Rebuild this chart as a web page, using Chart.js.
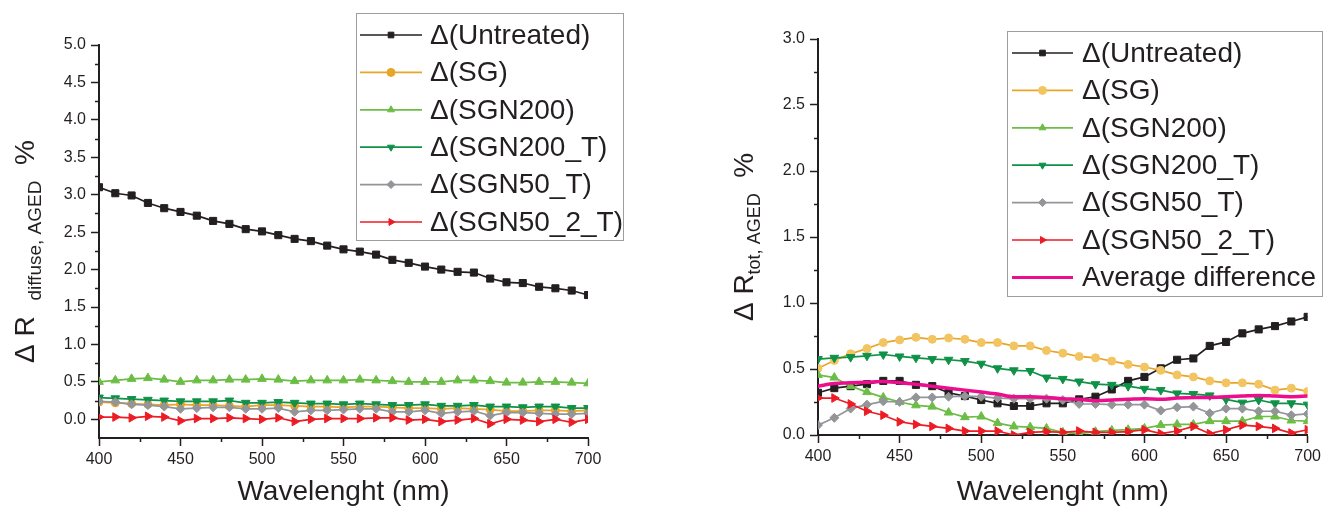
<!DOCTYPE html>
<html><head><meta charset="utf-8">
<script src="https://cdn.jsdelivr.net/npm/chart.js@4.4.0/dist/chart.umd.min.js"></script>
<style>
html,body{margin:0;padding:0;background:#fff;width:1325px;height:506px;overflow:hidden}
#c1{position:absolute;left:0;top:0;width:720px;height:506px}
#c2{position:absolute;left:720px;top:0;width:605px;height:506px}
</style></head><body>
<canvas id="c1" width="720" height="506"></canvas>
<canvas id="c2" width="605" height="506"></canvas>
<script>
// ---------- data ----------
const wavelengths = [400,410,420,430,440,450,460,470,480,490,500,510,520,530,540,550,560,570,580,590,600,610,620,630,640,650,660,670,680,690,700];
const seriesNames = ['Δ(Untreated)','Δ(SG)','Δ(SGN200)','Δ(SGN200_T)','Δ(SGN50_T)','Δ(SGN50_2_T)'];
const avgName = 'Average difference';

// left: Delta R diffuse, AGED %
const diffUntreated = [3.10,3.02,2.99,2.89,2.82,2.77,2.72,2.65,2.61,2.54,2.51,2.46,2.41,2.38,2.32,2.27,2.24,2.20,2.13,2.09,2.04,2.00,1.97,1.96,1.88,1.83,1.82,1.77,1.75,1.72,1.66];
const diffSG        = [0.23,0.22,0.21,0.20,0.19,0.20,0.19,0.19,0.18,0.17,0.19,0.19,0.18,0.17,0.17,0.16,0.17,0.17,0.16,0.15,0.15,0.14,0.15,0.14,0.13,0.11,0.11,0.12,0.12,0.11,0.12];
const diffSGN200    = [0.50,0.52,0.54,0.55,0.53,0.50,0.52,0.52,0.53,0.53,0.54,0.53,0.51,0.52,0.52,0.52,0.53,0.52,0.51,0.50,0.50,0.50,0.52,0.52,0.51,0.49,0.49,0.50,0.50,0.49,0.48];
const diffSGN200T   = [0.29,0.28,0.27,0.26,0.25,0.24,0.24,0.24,0.25,0.22,0.22,0.23,0.22,0.21,0.21,0.20,0.21,0.20,0.19,0.19,0.20,0.18,0.18,0.19,0.17,0.17,0.16,0.17,0.17,0.15,0.15];
const diffSGN50T    = [0.24,0.23,0.20,0.19,0.17,0.14,0.15,0.16,0.16,0.14,0.14,0.15,0.10,0.12,0.12,0.13,0.14,0.14,0.10,0.10,0.12,0.08,0.10,0.11,0.05,0.09,0.09,0.08,0.07,0.07,0.08];
const diffSGN502T   = [0.03,0.03,0.02,0.04,0.03,-0.02,0.01,0.01,0.02,0.01,0.00,0.02,-0.03,0.00,0.01,0.01,0.01,0.02,0.02,-0.01,0.00,-0.03,-0.01,0.01,-0.06,0.00,-0.01,-0.03,0.00,-0.04,0.00];

// right: Delta R tot, AGED %
const totUntreated = [0.32,0.355,0.37,0.385,0.41,0.41,0.38,0.37,0.32,0.295,0.265,0.24,0.22,0.22,0.24,0.24,0.27,0.29,0.345,0.41,0.44,0.505,0.57,0.58,0.675,0.705,0.77,0.80,0.825,0.86,0.895];
const totSG        = [0.505,0.565,0.615,0.655,0.70,0.72,0.74,0.725,0.735,0.725,0.70,0.70,0.675,0.675,0.64,0.62,0.595,0.585,0.56,0.535,0.515,0.49,0.455,0.44,0.41,0.395,0.395,0.385,0.34,0.355,0.33];
const totSGN200    = [0.455,0.435,0.37,0.325,0.285,0.25,0.225,0.215,0.17,0.135,0.14,0.09,0.065,0.06,0.05,0.02,0.01,0.025,0.035,0.04,0.05,0.075,0.08,0.08,0.105,0.105,0.105,0.14,0.14,0.11,0.105];
const totSGN200T   = [0.575,0.585,0.59,0.60,0.61,0.595,0.585,0.575,0.57,0.56,0.54,0.505,0.49,0.485,0.435,0.425,0.405,0.385,0.38,0.37,0.35,0.34,0.315,0.31,0.30,0.27,0.245,0.265,0.24,0.24,0.23];
const totSGN50T    = [0.075,0.13,0.20,0.23,0.255,0.25,0.285,0.285,0.29,0.295,0.29,0.28,0.275,0.275,0.275,0.265,0.235,0.235,0.23,0.23,0.23,0.185,0.21,0.215,0.165,0.20,0.20,0.18,0.18,0.15,0.16];
const totSGN502T   = [0.28,0.28,0.235,0.18,0.15,0.10,0.08,0.065,0.05,0.03,0.03,0.03,0.0,0.02,0.025,0.02,0.03,0.02,0.02,0.025,0.04,0.01,0.03,0.065,0.01,0.04,0.075,0.065,0.05,0.015,0.04];
const totAverage   = [0.37,0.39,0.395,0.40,0.405,0.395,0.385,0.37,0.355,0.34,0.325,0.31,0.29,0.29,0.285,0.275,0.27,0.26,0.265,0.27,0.275,0.27,0.28,0.285,0.285,0.29,0.295,0.30,0.295,0.29,0.295];

// ---------- styling ----------
const INK = '#231f20';
const FONT = "'Liberation Sans', Arial, Helvetica, sans-serif";
Chart.defaults.font.family = FONT;
Chart.defaults.color = INK;

const styles = [
  {color:'#231f20', fill:'#231f20', pointStyle:'rect', rotation:0, radius:5, order:6},
  {color:'#e8a527', fill:'#e8a527', pointStyle:'circle', rotation:0, radius:4, order:5},
  {color:'#6cbd45', fill:'#6cbd45', pointStyle:'triangle', rotation:0, radius:5, order:4},
  {color:'#0f9147', fill:'#0f9147', pointStyle:'triangle', rotation:180, radius:5, order:3},
  {color:'#939598', fill:'#939598', pointStyle:'rectRot', rotation:0, radius:4.5, order:2},
  {color:'#ed1c24', fill:'#ed1c24', pointStyle:'triangle', rotation:90, radius:5, order:1}
];

function pts(arr){ return wavelengths.map((w,i)=>({x:w, y:arr[i]})); }
function mkDs(name, arr, st, over){
  return Object.assign({
    label:name, data:pts(arr), borderColor:st.color, backgroundColor:st.fill,
    pointBackgroundColor:st.fill, pointBorderColor:st.fill, pointBorderWidth:1,
    pointStyle:st.pointStyle, pointRotation:st.rotation, pointRadius:st.radius,
    borderWidth:1.7, tension:0, order:st.order
  }, over||{});
}

const decor = {
  id:'decor',
  afterDraw(chart, args, o){
    const ctx = chart.ctx, ca = chart.chartArea;
    const xs = chart.scales.x, ys = chart.scales.y;
    ctx.save();
    // minor ticks (midpoints between major ticks)
    ctx.strokeStyle = INK; ctx.lineWidth = 1.5;
    const xt = xs.ticks.map(t=>t.value), yt = ys.ticks.map(t=>t.value);
    for (let i=0;i<xt.length-1;i++){
      const px = Math.round(xs.getPixelForValue((xt[i]+xt[i+1])/2))+0.5;
      ctx.beginPath(); ctx.moveTo(px, ca.bottom); ctx.lineTo(px, ca.bottom+o.minorLen); ctx.stroke();
    }
    for (let i=0;i<yt.length-1;i++){
      const py = Math.round(ys.getPixelForValue((yt[i]+yt[i+1])/2))+0.5;
      ctx.beginPath(); ctx.moveTo(ca.left-o.minorLen, py); ctx.lineTo(ca.left, py); ctx.stroke();
    }
    // x title
    ctx.fillStyle = INK;
    ctx.font = o.titleSize+'px '+FONT;
    ctx.textAlign='center'; ctx.textBaseline='alphabetic';
    ctx.fillText(o.xTitle, (ca.left+ca.right)/2, o.xTitleY);
    // y title (rotated, with subscript)
    ctx.save();
    ctx.translate(o.yTitleX, (ca.top+ca.bottom)/2 + (o.yTitleShift||0));
    ctx.rotate(-Math.PI/2);
    let total = 0;
    for (const p of o.yTitleParts){ ctx.font = p.size+'px '+FONT; total += ctx.measureText(p.t).width; }
    let cx = -total/2;
    ctx.textAlign='left';
    for (const p of o.yTitleParts){
      ctx.font = p.size+'px '+FONT;
      ctx.fillText(p.t, cx, p.dy);
      cx += ctx.measureText(p.t).width;
    }
    ctx.restore();
    // legend
    const L = o.legend;
    ctx.strokeStyle = '#9d9d9d'; ctx.lineWidth = 1;
    ctx.strokeRect(L.x+0.5, L.y+0.5, L.w, L.h);
    ctx.font = L.size+'px '+FONT;
    ctx.textAlign='left'; ctx.textBaseline='middle';
    chart.data.datasets.forEach((ds, i)=>{
      const y = L.firstY + i*L.rowH;
      ctx.strokeStyle = ds.borderColor; ctx.lineWidth = Math.min(ds.borderWidth, 3);
      ctx.beginPath(); ctx.moveTo(L.lineX0, y); ctx.lineTo(L.lineX1, y); ctx.stroke();
      if (ds.pointRadius > 0){
        ctx.fillStyle = ds.pointBackgroundColor; ctx.strokeStyle = ds.pointBorderColor; ctx.lineWidth = 1;
        Chart.helpers.drawPoint(ctx, {pointStyle:ds.pointStyle, rotation:ds.pointRotation, radius:L.markR, borderWidth:1}, (L.lineX0+L.lineX1)/2, y);
      }
      ctx.fillStyle = INK;
      ctx.fillText(ds.label, L.textX, y+1);
    });
    ctx.restore();
  }
};

function axisOpts(min, max, step, fmt, fixed, isY){
  return {
    type:'linear', min:min, max:max,
    ticks:{stepSize:step, includeBounds:false, color:INK, font:{size:16, family:FONT}, padding:isY?5:4,
      maxRotation:0, autoSkip:false, callback:fmt},
    grid:{display:true, drawOnChartArea:false, drawTicks:true, tickLength:8, tickWidth:1.5, tickColor:INK},
    border:{display:true, color:INK, width:2},
    afterFit:(s)=>{ if(isY) s.width = fixed; else s.height = fixed; }
  };
}

function makeChart(id, datasets, cfg){
  return new Chart(document.getElementById(id), {
    type:'line',
    data:{datasets:datasets},
    options:{
      responsive:false, animation:false, events:[],
      layout:{padding:{left:0, top:cfg.top, right:cfg.right, bottom:0}},
      scales:{
        x:axisOpts(400, 700, 50, v=>String(v), cfg.xH, false),
        y:axisOpts(cfg.ymin, cfg.ymax, 0.5, v=>v.toFixed(1), cfg.yW, true)
      },
      plugins:{legend:{display:false}, tooltip:{enabled:false}, decor:cfg.decor}
    },
    plugins:[decor]
  });
}

// ----- left chart -----
const leftData = [diffUntreated, diffSG, diffSGN200, diffSGN200T, diffSGN50T, diffSGN502T];
makeChart('c1', leftData.map((a,i)=>mkDs(seriesNames[i], a, styles[i])), {
  top:45, right:720-588, xH:506-438, yW:99, ymin:-0.25, ymax:5,
  decor:{
    minorLen:4, titleSize:28, xTitle:'Wavelenght (nm)', xTitleY:500,
    yTitleX:34, yTitleShift:10,
    yTitleParts:[{t:'Δ R  ', size:28, dy:0},{t:'diffuse, AGED', size:19, dy:7},{t:'  %', size:28, dy:0}],
    legend:{x:356, y:13, w:267, h:227, firstY:35, rowH:37.4, lineX0:360, lineX1:422, textX:430, size:28, markR:4}
  }
});

// ----- right chart -----
const rightData = [totUntreated, totSG, totSGN200, totSGN200T, totSGN50T, totSGN502T];
const rightSets = rightData.map((a,i)=>mkDs(seriesNames[i], a, styles[i]));
rightSets[1].pointBackgroundColor = '#f2c462'; rightSets[1].pointBorderColor = '#f2c462';
rightSets.push({
  label:avgName, data:pts(totAverage), borderColor:'#ec0e8c', backgroundColor:'#ec0e8c',
  pointRadius:0, borderWidth:3.5, cubicInterpolationMode:'monotone', order:0
});
makeChart('c2', rightSets, {
  top:39, right:605-593, xH:506-435, yW:98, ymin:0, ymax:3,
  decor:{
    minorLen:4, titleSize:28, xTitle:'Wavelenght (nm)', xTitleY:500,
    yTitleX:33, yTitleShift:0,
    yTitleParts:[{t:'Δ R', size:28, dy:0},{t:'tot, AGED', size:18, dy:7},{t:'  %', size:28, dy:0}],
    legend:{x:287, y:31, w:315, h:265, firstY:53, rowH:37.4, lineX0:292, lineX1:353, textX:362, size:28, markR:4}
  }
});
</script>
</body></html>
